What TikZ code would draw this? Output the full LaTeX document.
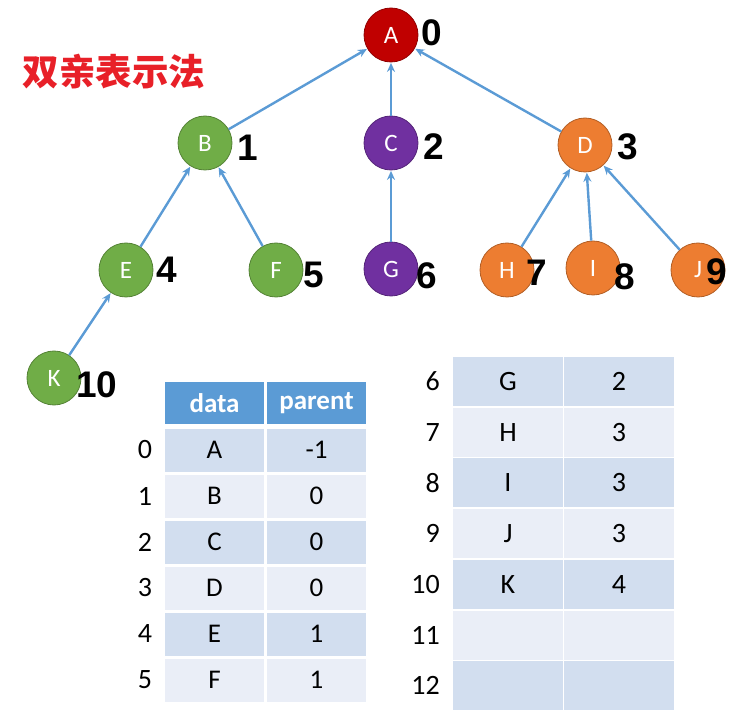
\documentclass[tikz,border=0pt]{standalone}
\usepackage{fontspec}
\setmainfont{Carlito}
\newfontfamily\cjk{Noto Sans CJK SC}
\newfontfamily\numfont{Liberation Sans}
\usetikzlibrary{arrows.meta}

\definecolor{redA}{RGB}{192,0,0}
\definecolor{greenB}{RGB}{112,173,71}
\definecolor{purpleC}{RGB}{112,48,160}
\definecolor{orangeD}{RGB}{237,125,49}
\definecolor{edgeblue}{RGB}{91,155,213}
\definecolor{headblue}{RGB}{91,155,213}
\definecolor{rowdark}{RGB}{210,222,239}
\definecolor{rowlight}{RGB}{234,238,247}
\definecolor{titlered}{RGB}{232,32,40}

\tikzset{
  vtx/.style={circle,minimum size=54pt,inner sep=0pt,text=white,
    font=\fontsize{25}{25}\selectfont,line width=0.8pt,draw=#1!75!black,fill=#1},
  idx/.style={font=\numfont\bfseries\fontsize{37}{37}\selectfont,inner sep=0pt},
  link/.style={draw=edgeblue,line width=2.4pt,-{Stealth[length=9pt,width=8pt]},shorten >=0.5pt},
  cellA/.style={minimum width=99pt,minimum height=43pt,inner sep=0pt,
    font=\fontsize{27}{27}\selectfont},
  cellB/.style={minimum width=110pt,minimum height=49pt,inner sep=0pt,
    font=\fontsize{28}{28}\selectfont},
  rownum/.style={inner sep=0pt,font=\fontsize{28}{28}\selectfont}
}

\begin{document}
\begin{tikzpicture}[x=1pt,y=1pt,yscale=-1,xscale=1]
\useasboundingbox (0,0) rectangle (742,719);

%title
\node[text=titlered,font=\cjk\bfseries\fontsize{36.5}{36.5}\selectfont,inner sep=0pt] (title) at (114,72) {双亲表示法};

%tree nodes
\node[vtx=redA] (A) at (391,35) {A};
\node[vtx=greenB] (B) at (205,143) {B};
\node[vtx=purpleC] (C) at (391,143) {C};
\node[vtx=orangeD] (D) at (585,145) {D};
\node[vtx=greenB] (E) at (126,270) {E};
\node[vtx=greenB] (F) at (276,270) {F};
\node[vtx=purpleC] (G) at (391,269) {G};
\node[vtx=orangeD] (H) at (507,270) {H};
\node[vtx=orangeD] (I) at (593,268) {I};
\node[vtx=orangeD] (J) at (698,270) {J};
\node[vtx=greenB] (K) at (54,378) {K};

%child to parent
\draw[link] (B) -- (A);
\draw[link] (C) -- (A);
\draw[link] (D) -- (A);
\draw[link] (E) -- (B);
\draw[link] (F) -- (B);
\draw[link] (G) -- (C);
\draw[link] (H) -- (D);
\draw[link] (I) -- (D);
\draw[link] (J) -- (D);
\draw[link] (K) -- (E);

%index labels
\node[idx] (nA) at (432,33) {0};
\node[idx] (nB) at (248,148) {1};
\node[idx] (nC) at (434,147) {2};
\node[idx] (nD) at (628,147) {3};
\node[idx] (nE) at (167,270) {4};
\node[idx] (nF) at (314,275) {5};
\node[idx] (nG) at (427,276) {6};
\node[idx] (nH) at (537,273) {7};
\node[idx] (nI) at (625,277) {8};
\node[idx] (nJ) at (717,272) {9};
\node[idx] (nK) at (97,385) {10};

%left table
\node[cellA,fill=headblue,text=white,font=\bfseries\fontsize{27}{27}\selectfont,minimum height=42pt] (hd) at (214.5,403) {data};
\node[cellA,fill=headblue,text=white,font=\bfseries\fontsize{27}{27}\selectfont,minimum height=42pt] (hp) at (316.5,403) {parent};
\foreach \i/\d/\p in {0/A/-1,1/B/0,2/C/0,3/D/0,4/E/1,5/F/1}{
  \pgfmathsetmacro{\yy}{450+46*\i}
  \ifodd\i \def\rc{rowlight}\else \def\rc{rowdark}\fi
  \node[cellA,fill=\rc] (d\i) at (214.5,\yy) {\d};
  \node[cellA,fill=\rc] (p\i) at (316.5,\yy) {\p};
  \node[rownum] (r\i) at (145,\yy) {\i};
}

%right table
\foreach \i/\d/\p in {6/G/2,7/H/3,8/I/3,9/J/3,10/K/4,11//,12//}{
  \pgfmathsetmacro{\yy}{381.5+50.7*(\i-6)}
  \ifodd\i \def\rc{rowlight}\else \def\rc{rowdark}\fi
  \node[cellB,fill=\rc] (d\i) at (508,\yy) {\d};
  \node[cellB,fill=\rc] (p\i) at (619,\yy) {\p};
  \node[rownum,anchor=east] (r\i) at (440,\yy) {\i};
}

\end{tikzpicture}
\end{document}
